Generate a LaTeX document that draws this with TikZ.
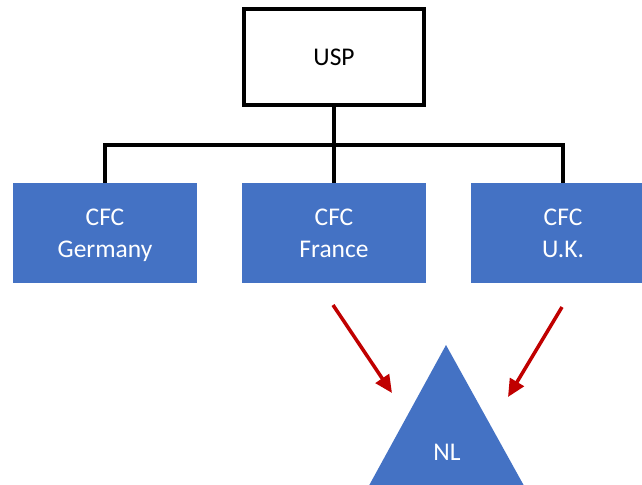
\documentclass[tikz,border=0pt]{standalone}
\usepackage{fontspec}
\setmainfont{Carlito}
\usetikzlibrary{arrows.meta}
\definecolor{cfcblue}{HTML}{4472C4}
\definecolor{arrred}{HTML}{C00000}

\begin{document}
\begin{tikzpicture}[x=0.02cm,y=-0.02cm,
  box/.style={draw,line width=2.2pt,minimum width=3.6cm,minimum height=1.92cm,
    font=\fontsize{14.5}{18.5}\selectfont,align=center},
  cfc/.style={fill=cfcblue,text=white,minimum width=3.68cm,minimum height=2cm,
    font=\fontsize{14.5}{18.5}\selectfont,align=center,text depth=0pt},
  conn/.style={line width=2.2pt},
  redarr/.style={arrred,line width=2pt,-{Triangle[length=10pt,width=9pt]}}]
  \useasboundingbox (0,0) rectangle (642,484);
  \clip (0,0) rectangle (642,484);

  \node[box] (usp) at (334,57) {USP};

  \node[cfc] (ger) at (105,233) {CFC\\Germany};
  \node[cfc] (fr) at (334,233) {CFC\\France};
  \node[cfc] (uk) at (563,233) {CFC\\U.K.};

  \coordinate (bus) at (334,145);
  \draw[conn] (usp.south) -- (bus);
  \draw[conn] (ger.north) |- (bus) -| (uk.north);
  \draw[conn] (bus) -- (fr.north);

  \coordinate (top) at (446,345);
  \coordinate (bl) at (360,502);
  \coordinate (br) at (533,502);
  \fill[cfcblue] (top) -- (bl) -- (br) -- cycle;
  \node[text=white,font=\fontsize{14.5}{18.5}\selectfont] (nl) at (447,452) {NL};

  \coordinate (a1) at (333,305);
  \coordinate (a1e) at (392,393);
  \coordinate (a2) at (562,307);
  \coordinate (a2e) at (508,397);
  \draw[redarr] (a1) -- (a1e);
  \draw[redarr] (a2) -- (a2e);

\end{tikzpicture}
\end{document}
